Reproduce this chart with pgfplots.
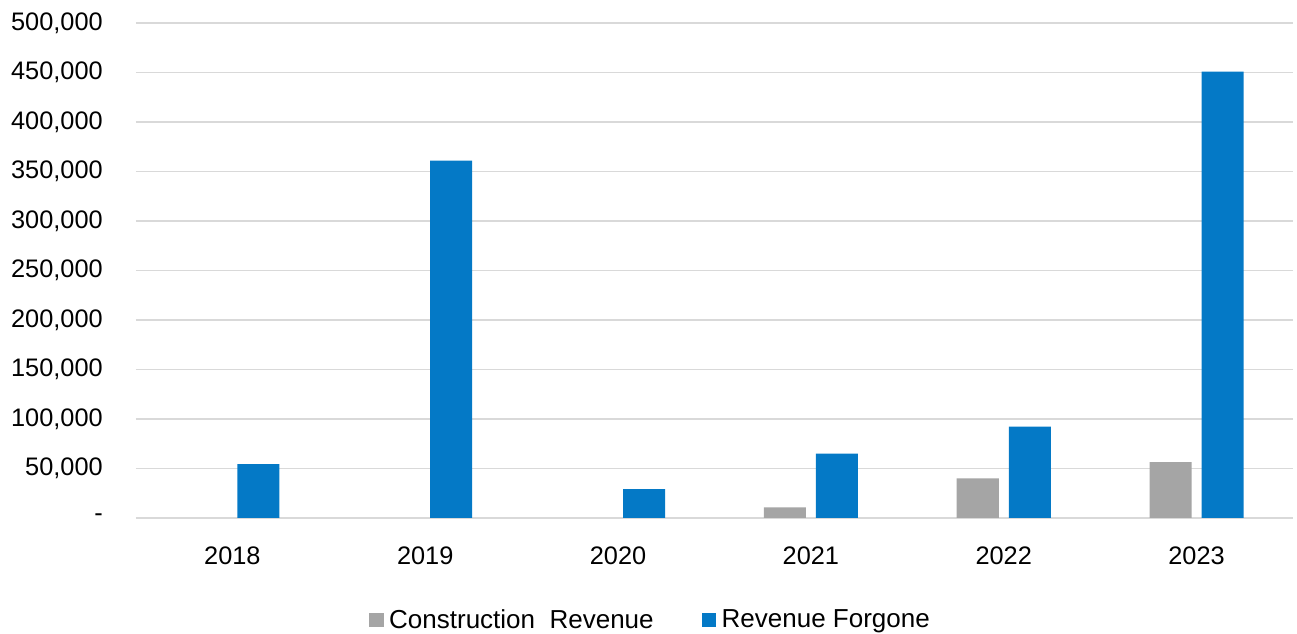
\documentclass[border=0pt]{standalone}
\usepackage{pgfplots}
\pgfplotsset{compat=1.18}
\usepackage{fontspec}
\setmainfont{Liberation Sans}
\definecolor{cgray}{HTML}{A5A5A5}
\definecolor{cblue}{HTML}{0479C6}
\definecolor{cgrid}{HTML}{D9D9D9}
\begin{document}
\begin{tikzpicture}
\begin{axis}[
  at={(0pt,0pt)}, anchor=south west,
  scale only axis,
  width=867.75pt, height=371.25pt,
  xmin=-0.5, xmax=5.5,
  ymin=0, ymax=500000,
  xtick={0,1,2,3,4,5},
  xticklabels={2018,2019,2020,2021,2022,2023},
  ytick={0,50000,100000,150000,200000,250000,300000,350000,400000,450000,500000},
  yticklabels={{-\hspace{7.5pt}},{50,000},{100,000},{150,000},{200,000},{250,000},{300,000},{350,000},{400,000},{450,000},{500,000}},
  scaled y ticks=false,
  major tick length=0pt,
  axis line style={draw=none},
  ymajorgrids,
  grid style={cgrid, line width=1.2pt},
  tick label style={font=\fontsize{19}{22}\selectfont, text=black},
  yticklabel style={anchor=east, inner sep=0pt, xshift=-24.75pt},
  xticklabel style={anchor=north, inner sep=0pt, yshift=-21.75pt},
  ybar,
  bar width=31.5pt,
  legend columns=2,
  legend style={draw=none, fill=none, at={(0.445,-0.206)}, anchor=center,
    font=\fontsize{19.5}{22}\selectfont, column sep=2pt,
    /tikz/every even column/.append style={column sep=34pt}},
  legend image code/.code={\fill[#1] (0pt,-5.5pt) rectangle (11pt,5.5pt);},
]
\addplot[fill=cgray, draw=none, bar shift=-19.5pt] coordinates {(3,10700) (4,39900) (5,56500)};
\addlegendentry{Construction~~Revenue}
\addplot[fill=cblue, draw=none, bar shift=19.5pt] coordinates {(0,54300) (1,361000) (2,29200) (3,65100) (4,92200) (5,451000)};
\addlegendentry{Revenue Forgone}
\end{axis}
\pgfresetboundingbox
\path[use as bounding box] (-102pt,-87pt) rectangle (870.75pt,388.5pt);
\end{tikzpicture}
\end{document}
